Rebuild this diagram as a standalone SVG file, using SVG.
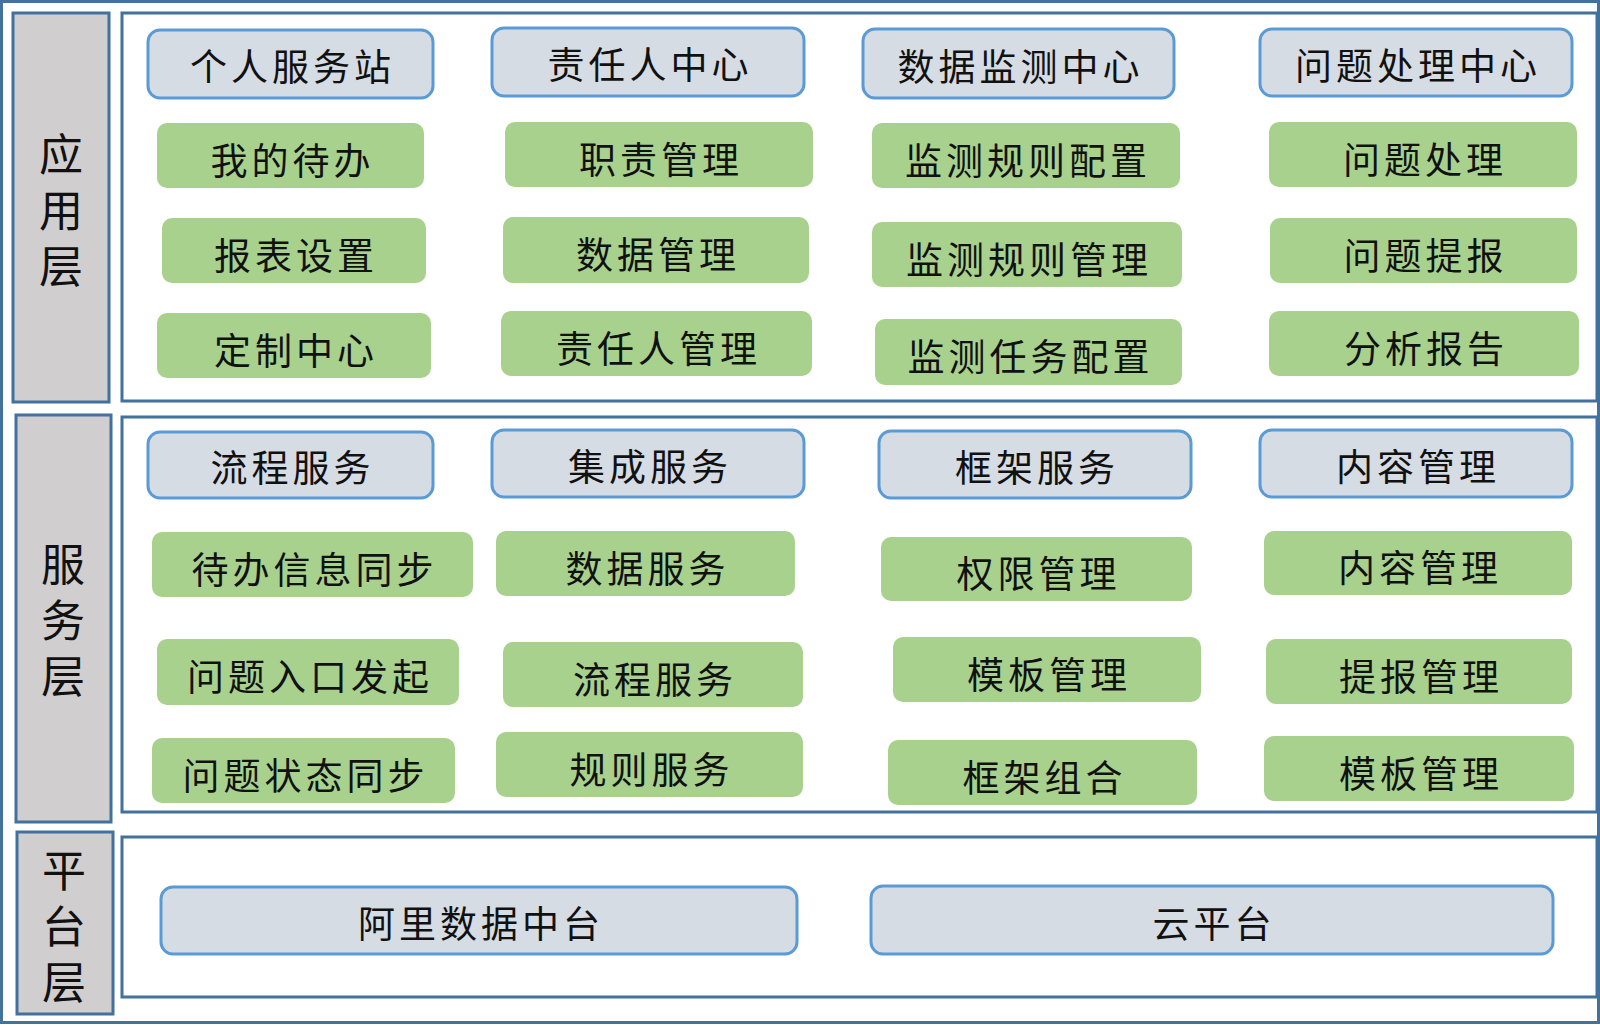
<svg xmlns="http://www.w3.org/2000/svg" width="1600" height="1027" viewBox="0 0 1600 1027">
<style>
.frame{fill:#ffffff;stroke:#41719c;stroke-width:3}
.label{fill:#d0cece;stroke:#41719c;stroke-width:3}
.hdr{fill:#d6dce4;stroke:#5b9bd5;stroke-width:3}
.item{fill:#a9d18e;stroke:none}
text{font-family:"Noto Sans CJK SC","Noto Sans CJK JP",sans-serif;fill:#111111;text-anchor:middle;dominant-baseline:central}
.t{font-size:37px;letter-spacing:4px}
.lt{font-size:44px;letter-spacing:12px;writing-mode:vertical-rl}
</style>
<rect x="1.5" y="1.5" width="1597" height="1021" fill="#ffffff" stroke="#41719c" stroke-width="3"/>
<g id="layers">
<rect class="frame" x="122" y="13" width="1475" height="388"/>
<rect class="frame" x="122" y="417" width="1475" height="395"/>
<rect class="frame" x="122" y="837" width="1475" height="160"/>
</g>
<g id="label-app"><rect class="label" x="13" y="13" width="96" height="389"/>
<text class="lt" x="61" y="216">应用层</text></g>
<g id="label-svc"><rect class="label" x="16" y="415" width="95" height="407"/>
<text class="lt" x="63" y="626.5">服务层</text></g>
<g id="label-plat"><rect class="label" x="17" y="832" width="96" height="182"/>
<text class="lt" x="64" y="932.5">平台层</text></g>

<g id="n1"><rect class="hdr" x="148" y="30" width="285" height="68" rx="12"/><text class="t" x="292.5" y="65">个人服务站</text></g>
<g id="n2"><rect class="hdr" x="492" y="28" width="312" height="68" rx="12"/><text class="t" x="650" y="63">责任人中心</text></g>
<g id="n3"><rect class="hdr" x="863" y="29" width="311" height="69" rx="12"/><text class="t" x="1020.5" y="64.5">数据监测中心</text></g>
<g id="n4"><rect class="hdr" x="1260" y="29" width="312" height="67" rx="12"/><text class="t" x="1418" y="63.5">问题处理中心</text></g>

<g id="n5"><rect class="item" x="157" y="123" width="267" height="65" rx="10"/><text class="t" x="292.5" y="158.5">我的待办</text></g>
<g id="n6"><rect class="item" x="162" y="218" width="264" height="65" rx="10"/><text class="t" x="296" y="253.5">报表设置</text></g>
<g id="n7"><rect class="item" x="157" y="313" width="274" height="65" rx="10"/><text class="t" x="296" y="348.5">定制中心</text></g>
<g id="n8"><rect class="item" x="505" y="122" width="308" height="65" rx="10"/><text class="t" x="661" y="157.5">职责管理</text></g>
<g id="n9"><rect class="item" x="503" y="217" width="306" height="66" rx="10"/><text class="t" x="658" y="253">数据管理</text></g>
<g id="n10"><rect class="item" x="501" y="311" width="311" height="65" rx="10"/><text class="t" x="658.5" y="346.5">责任人管理</text></g>
<g id="n11"><rect class="item" x="872" y="123" width="308" height="65" rx="10"/><text class="t" x="1028" y="158.5">监测规则配置</text></g>
<g id="n12"><rect class="item" x="872" y="222" width="310" height="65" rx="10"/><text class="t" x="1029" y="257.5">监测规则管理</text></g>
<g id="n13"><rect class="item" x="875" y="319" width="307" height="66" rx="10"/><text class="t" x="1030.5" y="355">监测任务配置</text></g>
<g id="n14"><rect class="item" x="1269" y="122" width="308" height="65" rx="10"/><text class="t" x="1425" y="157.5">问题处理</text></g>
<g id="n15"><rect class="item" x="1270" y="218" width="307" height="65" rx="10"/><text class="t" x="1425.5" y="253.5">问题提报</text></g>
<g id="n16"><rect class="item" x="1269" y="311" width="310" height="65" rx="10"/><text class="t" x="1426" y="346.5">分析报告</text></g>

<g id="n17"><rect class="hdr" x="148" y="432" width="285" height="66" rx="12"/><text class="t" x="292.5" y="466">流程服务</text></g>
<g id="n18"><rect class="hdr" x="492" y="430" width="312" height="67" rx="12"/><text class="t" x="650" y="465">集成服务</text></g>
<g id="n19"><rect class="hdr" x="879" y="431" width="312" height="67" rx="12"/><text class="t" x="1037" y="466">框架服务</text></g>
<g id="n20"><rect class="hdr" x="1260" y="430" width="312" height="67" rx="12"/><text class="t" x="1418" y="465">内容管理</text></g>

<g id="n21"><rect class="item" x="152" y="532" width="321" height="65" rx="10"/><text class="t" x="314.5" y="567.5">待办信息同步</text></g>
<g id="n22"><rect class="item" x="157" y="639" width="302" height="66" rx="10"/><text class="t" x="310" y="675">问题入口发起</text></g>
<g id="n23"><rect class="item" x="152" y="738" width="303" height="65" rx="10"/><text class="t" x="305.5" y="773.5">问题状态同步</text></g>
<g id="n24"><rect class="item" x="496" y="531" width="299" height="65" rx="10"/><text class="t" x="647.5" y="566.5">数据服务</text></g>
<g id="n25"><rect class="item" x="503" y="642" width="300" height="65" rx="10"/><text class="t" x="655" y="677.5">流程服务</text></g>
<g id="n26"><rect class="item" x="496" y="732" width="307" height="65" rx="10"/><text class="t" x="651.5" y="767.5">规则服务</text></g>
<g id="n27"><rect class="item" x="881" y="537" width="311" height="64" rx="10"/><text class="t" x="1038.5" y="572">权限管理</text></g>
<g id="n28"><rect class="item" x="893" y="637" width="308" height="65" rx="10"/><text class="t" x="1049" y="672.5">模板管理</text></g>
<g id="n29"><rect class="item" x="888" y="740" width="309" height="65" rx="10"/><text class="t" x="1044.5" y="775.5">框架组合</text></g>
<g id="n30"><rect class="item" x="1264" y="531" width="308" height="64" rx="10"/><text class="t" x="1420" y="566">内容管理</text></g>
<g id="n31"><rect class="item" x="1266" y="639" width="306" height="65" rx="10"/><text class="t" x="1421" y="674.5">提报管理</text></g>
<g id="n32"><rect class="item" x="1264" y="736" width="310" height="65" rx="10"/><text class="t" x="1421" y="771.5">模板管理</text></g>

<g id="n33"><rect class="hdr" x="161" y="887" width="636" height="67" rx="12"/><text class="t" x="481" y="922">阿里数据中台</text></g>
<g id="n34"><rect class="hdr" x="871" y="886" width="682" height="68" rx="12"/><text class="t" x="1214" y="921.5">云平台</text></g>
<g id="connectors"></g>
</svg>
